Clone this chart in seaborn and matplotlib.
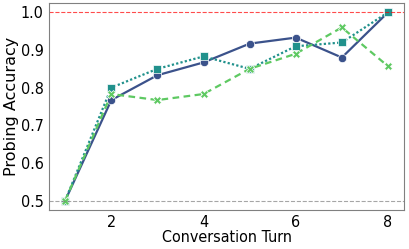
import numpy as np
import pandas as pd
import matplotlib
matplotlib.use("Agg")
import matplotlib.pyplot as plt
import seaborn as sns

turns = [1, 2, 3, 4, 5, 6, 7, 8]
series_names = ["Probe A", "Probe B", "Probe C"]
acc_a = [0.5, 0.767, 0.833, 0.867, 0.917, 0.933, 0.88, 1.0]
acc_b = [0.5, 0.80, 0.85, 0.883, 0.85, 0.91, 0.92, 1.0]
acc_c = [0.5, 0.783, 0.767, 0.783, 0.85, 0.89, 0.96, 0.857]

df = pd.DataFrame({
    "Conversation Turn": turns * 3,
    "Probing Accuracy": acc_a + acc_b + acc_c,
    "series": [n for n in series_names for _ in turns],
})

sns.set_style("white")
plt.rcParams['font.family'] = ['DejaVu Sans']
plt.rcParams['font.stretch'] = 'condensed'

palette = {"Probe A": "#3b528b", "Probe B": "#21918c", "Probe C": "#5ec962"}
markers = {"Probe A": "o", "Probe B": "s", "Probe C": "X"}
dashes = {"Probe A": "", "Probe B": (1, 1), "Probe C": (3, 2)}

fig, ax = plt.subplots(figsize=(4.09, 2.49), dpi=100)
sns.lineplot(data=df, x="Conversation Turn", y="Probing Accuracy", hue="series",
             style="series", palette=palette, markers=markers, dashes=dashes,
             markersize=6, linewidth=1.6, markeredgewidth=0.5, ax=ax, legend=False)

ax.axhline(1.0, color="red", linestyle="--", linewidth=0.8, alpha=0.7)
ax.axhline(0.5, color="gray", linestyle="--", linewidth=0.8, alpha=0.7)

ax.set_xticks([2, 4, 6, 8])
ax.set_yticks([0.5, 0.6, 0.7, 0.8, 0.9, 1.0])
ax.tick_params(axis="both", labelsize=11.5, length=2.5, color="gray", labelcolor="black", pad=1.5)
ax.set_xlabel("Conversation Turn", fontsize=11.5, labelpad=0, color="black")
ax.set_ylabel("Probing Accuracy", fontsize=11.5, labelpad=1, color="black",
              fontstretch="normal")
for s in ax.spines.values():
    s.set_color("gray")

fig.subplots_adjust(left=0.12, right=0.988, top=0.988, bottom=0.157)
plt.savefig("out.png", dpi=100)
